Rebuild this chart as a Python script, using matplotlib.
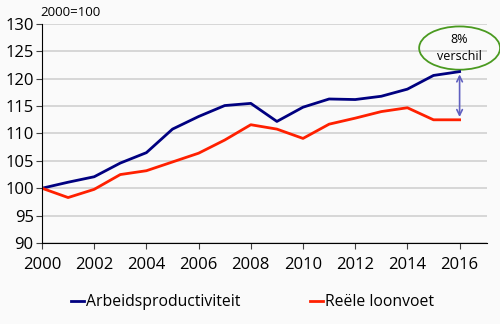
import numpy as np
import matplotlib.pyplot as plt
from matplotlib.patches import Ellipse

years = np.arange(2000, 2017)
productiviteit = [100, 101.1, 102.1, 104.6, 106.5, 110.8, 113.1, 115.1, 115.5,
                  112.2, 114.8, 116.3, 116.2, 116.8, 118.1, 120.6, 121.3]
loonvoet = [100, 98.3, 99.8, 102.5, 103.2, 104.8, 106.4, 108.8, 111.6,
            110.8, 109.1, 111.7, 112.8, 114.0, 114.7, 112.5, 112.5]

plt.rcParams['font.family'] = ['Open Sans', 'DejaVu Sans']

fig = plt.figure(figsize=(5, 3.24), dpi=100, facecolor='#fafafa')
ax = fig.add_axes([0.084, 0.25, 0.89, 0.676], facecolor='#fafafa')

ax.plot(years, productiviteit, color='#000080', lw=2, label='Arbeidsproductiviteit')
ax.plot(years, loonvoet, color='#ff2000', lw=2, label='Reële loonvoet')

ax.set_ylim(90, 130)
ax.set_xlim(2000, 2017.05)
ax.set_yticks(np.arange(90, 131, 5))
ax.set_xticks(np.arange(2000, 2017, 2))
ax.yaxis.grid(True, color='#d0d0d0', lw=1.2)
ax.set_axisbelow(True)
for s in ['top', 'right']:
    ax.spines[s].set_visible(False)
ax.spines['left'].set_color('black')
ax.spines['bottom'].set_color('black')
ax.tick_params(axis='both', labelsize=12, length=4, color='#404040')
ax.tick_params(axis='y', pad=2)
ax.tick_params(axis='x', pad=6)

# verschil-pijl en ellips
ax.annotate('', xy=(2016, productiviteit[-1]), xytext=(2016, loonvoet[-1]),
            arrowprops=dict(arrowstyle='<->', color='#6060c0', lw=1.2))
ax.add_patch(Ellipse((2016, 125.6), 3.1, 7.9, fill=False, edgecolor='#4a9a20',
                     lw=1.3, clip_on=False))
ax.text(2016, 125.6, '8%\nverschil', ha='center', va='center', fontsize=9,
        linespacing=1.4)

fig.text(0.08, 0.962, '2000=100', fontsize=9.5, ha='left', va='center')

ax.legend(loc='upper center', bbox_to_anchor=(0.473, -0.17), ncol=2,
          frameon=False, fontsize=11.3, handlelength=0.85, handletextpad=0.15,
          columnspacing=4.4)

fig.savefig('out.png', dpi=100, facecolor=fig.get_facecolor())
